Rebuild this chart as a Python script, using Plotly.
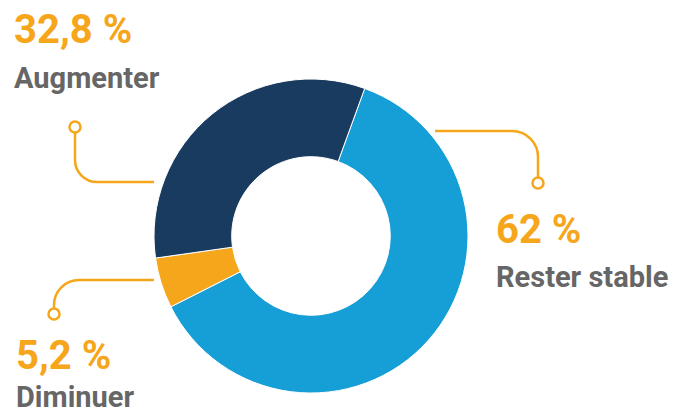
import plotly.graph_objects as go

# Survey answers, in clockwise order around the ring
categories = ["Rester stable", "Diminuer", "Augmenter"]
values = [62, 5.2, 32.8]
colors = ["#169ED6", "#F5A61A", "#183B5F"]

ORANGE = "#F5A61A"
GREY = "#666666"
W, H = 684, 416


def pct(v):
    return f"{v:g}".replace(".", ",") + " %"


fig = go.Figure()

# Donut centred at (311, 236) px with an outer radius of 157 px
cx, cy, r = 311, 236, 157
fig.add_trace(go.Pie(
    labels=categories,
    values=values,
    marker=dict(colors=colors, line=dict(color="white", width=1)),
    hole=0.505,
    sort=False,
    direction="clockwise",
    rotation=20,
    textinfo="none",
    showlegend=False,
    domain=dict(x=[(cx - r) / W, (cx + r) / W], y=[1 - (cy + r) / H, 1 - (cy - r) / H]),
))

# Hidden pixel-space axes used to place the callouts
fig.update_layout(
    xaxis=dict(range=[0, W], visible=False, domain=[0, 1], fixedrange=True),
    yaxis=dict(range=[H, 0], visible=False, domain=[0, 1], fixedrange=True),
)

LW = 2.5
k = 0.5523  # cubic approximation of a quarter circle


def leader(path):
    fig.add_shape(type="path", path=path, xref="x", yref="y",
                  line=dict(color=ORANGE, width=LW), layer="above")


def dot(x, y, rad=5.5):
    fig.add_shape(type="circle", xref="x", yref="y",
                  x0=x - rad, x1=x + rad, y0=y - rad, y1=y + rad,
                  line=dict(color=ORANGE, width=LW), fillcolor="white", layer="above")


# Augmenter callout: from the dot down, then right to the ring
ra = 22
leader(f"M 75 133 L 75 {182 - ra} C 75 {182 - ra + ra * k} {75 + ra - ra * k} 182 {75 + ra} 182 L 154 182")
dot(75, 127)

# Rester stable callout: from the ring right, then down to the dot
rb = 26
leader(f"M 435 131 L {538 - rb} 131 C {538 - rb + rb * k} 131 538 {131 + rb - rb * k} 538 {131 + rb} L 538 177")
dot(538, 183)

# Diminuer callout: from the ring left, then down to the dot
rc = 25
leader(f"M 154 280 L {54 + rc} 280 C {54 + rc - rc * k} 280 54 {280 + rc - rc * k} 54 {280 + rc} L 54 308.5")
dot(54, 314)

FONT = "Roboto, 'Open Sans', Arial, sans-serif"


def label(x, y, text, size, color):
    fig.add_annotation(x=x, y=y, xref="x", yref="y", text=f"<b>{text}</b>",
                       showarrow=False, xanchor="left", yanchor="middle",
                       borderpad=0, font=dict(family=FONT, size=size, color=color))


pos = {
    "Augmenter": (13, 29, 78),
    "Rester stable": (495, 229, 277),
    "Diminuer": (15, 355, 397),
}
for name, v in zip(categories, values):
    x, y_pct, y_name = pos[name]
    label(x, y_pct, pct(v), 40, ORANGE)
    label(x, y_name, name, 29, GREY)

fig.update_layout(
    width=W, height=H,
    margin=dict(l=0, r=0, t=0, b=0),
    paper_bgcolor="white", plot_bgcolor="white",
)

fig.write_html("out.html")
